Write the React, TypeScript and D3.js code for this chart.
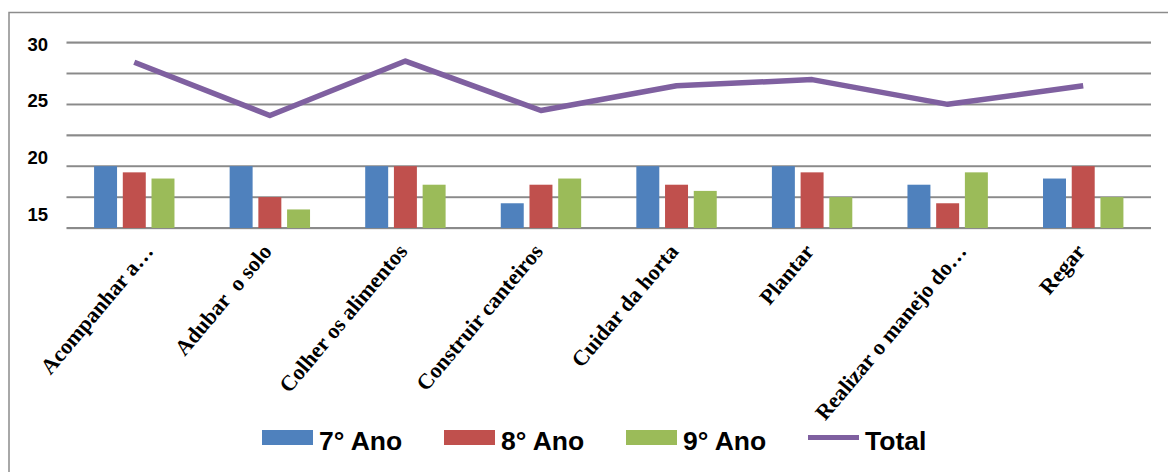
import React from "react";
import * as d3 from "d3";

const categories = [
  "Acompanhar a…",
  "Adubar  o solo",
  "Colher os alimentos",
  "Construir canteiros",
  "Cuidar da horta",
  "Plantar",
  "Realizar o manejo do…",
  "Regar",
];
const seriesNames = ["7° Ano", "8° Ano", "9° Ano"];
const ano7 = [20, 20, 20, 17, 20, 20, 18.5, 19];
const ano8 = [19.5, 17.5, 20, 18.5, 18.5, 19.5, 17, 20];
const ano9 = [19, 16.5, 18.5, 19, 18, 17.5, 19.5, 17.5];
const total = [28.4, 24.1, 28.5, 24.5, 26.5, 27, 25, 26.5];
const gridValues = [15, 17.5, 20, 22.5, 25, 27.5, 30];
const tickLabels = [30, 25, 20, 15];

const colors = ["#4F81BD", "#C0504D", "#9BBB59"];
const lineColor = "#7F60A0";

export default function App() {
  const W = 1168;
  const H = 472;
  const left = 66.5;
  const right = 1151;
  const y = d3.scaleLinear().domain([15, 30]).range([228, 42.5]);
  const yLabel = d3.scaleLinear().domain([15, 30]).range([214.3, 44]);
  const x = d3.scaleBand<string>().domain(categories).range([left, right]).padding(0);
  const groupW = 80.4;
  const x1 = d3.scaleBand<string>().domain(seriesNames).range([-groupW / 2, groupW / 2]).paddingInner(0.2).paddingOuter(0);
  const series = [ano7, ano8, ano9];
  const cx = (c: string) => (x(c) as number) + x.bandwidth() / 2;
  const line = d3
    .line<number>()
    .x((_, i) => cx(categories[i]))
    .y((d) => y(d));

  const legendItems = [
    { name: "7° Ano", color: colors[0], type: "rect" },
    { name: "8° Ano", color: colors[1], type: "rect" },
    { name: "9° Ano", color: colors[2], type: "rect" },
    { name: "Total", color: lineColor, type: "line" },
  ];
  const legendX = d3.scaleLinear().domain([0, 1]).range([262, 444]);

  return (
    <div style={{ position: "absolute", left: 0, top: 0 }}>
      <svg width={W} height={H} style={{ display: "block", background: "#fff" }}>
        {/* chart border */}
        <rect x={9} y={12.5} width={W + 20} height={H + 20} fill="none" stroke="#8c8c8c" strokeWidth={1.5} />
        {/* gridlines */}
        {gridValues.map((v) => (
          <g key={v}>
            <line x1={left} x2={right} y1={y(v) + 1} y2={y(v) + 1} stroke="#d9d9d9" strokeWidth={1} />
            <line x1={left} x2={right} y1={y(v)} y2={y(v)} stroke="#8a8a8a" strokeWidth={1.8} />
          </g>
        ))}
        {/* y labels */}
        {tickLabels.map((v) => (
          <text
            key={v}
            x={48}
            y={yLabel(v)}
            textAnchor="end"
            dominantBaseline="central"
            fontFamily="'Liberation Sans', Arial, sans-serif"
            fontWeight="bold"
            fontSize={18.5}
            fill="#000"
          >
            {v}
          </text>
        ))}
        {/* bars */}
        {categories.map((c, i) => (
          <g key={c}>
            {series.map((s, j) => (
              <rect
                key={j}
                x={cx(c) + (x1(seriesNames[j]) as number)}
                y={y(s[i])}
                width={x1.bandwidth()}
                height={y(15) - y(s[i])}
                fill={colors[j]}
              />
            ))}
          </g>
        ))}
        {/* line */}
        <path d={line(total) || ""} fill="none" stroke={lineColor} strokeWidth={5.5} strokeLinejoin="round" />
        {/* category labels */}
        {categories.map((c) => {
          const px = cx(c) + 3 + (c.endsWith("…") ? 17 : 0);
          const py = 252;
          return (
            <text
              key={c}
              transform={`translate(${px},${py}) rotate(-50)`}
              textAnchor="end"
              fontFamily="'Liberation Serif', 'Times New Roman', serif"
              fontWeight="bold"
              fontSize={22}
              fill="#000"
              style={{ whiteSpace: "pre" }}
            >
              {c}
            </text>
          );
        })}
        {/* legend */}
        {legendItems.map((it, i) => {
          const lx = legendX(i);
          return (
            <g key={it.name}>
              {it.type === "rect" ? (
                <rect x={lx} y={430} width={51} height={15} fill={it.color} />
              ) : (
                <line x1={lx} x2={lx + 51} y1={437.5} y2={437.5} stroke={it.color} strokeWidth={5} />
              )}
              <text
                x={lx + 57}
                y={450}
                fontFamily="'Liberation Sans', Arial, sans-serif"
                fontWeight="bold"
                fontSize={26.5}
                fill="#000"
              >
                {it.name}
              </text>
            </g>
          );
        })}
      </svg>
    </div>
  );
}
